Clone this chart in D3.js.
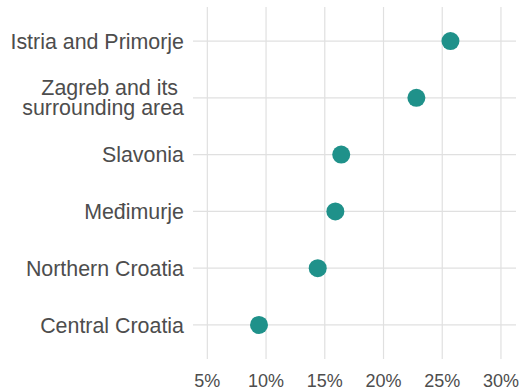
<!DOCTYPE html>
<html>
<head>
<meta charset="utf-8">
<script src="https://cdn.jsdelivr.net/npm/d3@7"></script>
<style>
  html, body { margin: 0; padding: 0; background: #fff; }
  svg { display: block; font-family: "Liberation Sans", Arial, Helvetica, sans-serif; }
</style>
</head>
<body>
<svg width="521" height="391"></svg>
<script>
// regions, top to bottom, with the share (%)
const regions = ['Istria and Primorje', 'Zagreb and its \nsurrounding area', 'Slavonia', 'Međimurje', 'Northern Croatia', 'Central Croatia'];
const shares = [25.7, 22.8, 16.4, 15.9, 14.4, 9.4];
const xTicks = [5, 10, 15, 20, 25, 30];

const data = regions.map((r, i) => ({ region: r, share: shares[i] }));

// panel area
const panel = { left: 193, right: 516, top: 7, bottom: 359 };

const svg = d3.select('svg');

const x = d3.scaleLinear()
  .domain([3.78, 31.28])
  .range([panel.left, panel.right]);

const y = d3.scalePoint()
  .domain(regions)
  .range([panel.top, panel.bottom])
  .padding(0.6);

const grid = svg.append('g').attr('class', 'grid');

// vertical grid lines
grid.selectAll('line.v').data(xTicks)
  .enter().append('line')
    .attr('class', 'v')
    .attr('x1', d => x(d)).attr('x2', d => x(d))
    .attr('y1', panel.top).attr('y2', panel.bottom)
    .attr('stroke', '#e0e0e0')
    .attr('stroke-width', 1.2);

// horizontal grid lines
grid.selectAll('line.h').data(regions)
  .enter().append('line')
    .attr('class', 'h')
    .attr('x1', panel.left).attr('x2', panel.right)
    .attr('y1', d => y(d)).attr('y2', d => y(d))
    .attr('stroke', '#e0e0e0')
    .attr('stroke-width', 1.2);

// x tick labels
svg.append('g').selectAll('text').data(xTicks)
  .enter().append('text')
    .attr('x', d => x(d))
    .attr('y', 386.7)
    .attr('text-anchor', 'middle')
    .attr('fill', '#4d4d4d')
    .style('font-size', '18px')
    .text(d => d + '%');

// y labels, possibly two lines
const yFont = 21.4;
const lineGap = 20;
const yLabels = svg.append('g').selectAll('text').data(regions)
  .enter().append('text')
    .attr('text-anchor', 'end')
    .attr('fill', '#4d4d4d')
    .style('font-size', yFont + 'px')
    .style('white-space', 'pre');

yLabels.each(function(d) {
  const lines = d.split('\n');
  const capH = 0.716 * yFont;
  const blockH = capH + (lines.length - 1) * lineGap;
  const firstBase = y(d) - blockH / 2 + capH;
  lines.forEach((ln, i) => {
    d3.select(this).append('tspan')
      .attr('x', 184)
      .attr('y', firstBase + i * lineGap)
      .text(ln);
  });
});

// points
svg.append('g').selectAll('circle').data(data)
  .enter().append('circle')
    .attr('cx', d => x(d.share))
    .attr('cy', d => y(d.region))
    .attr('r', 9)
    .attr('fill', '#1f918a');
</script>
</body>
</html>
